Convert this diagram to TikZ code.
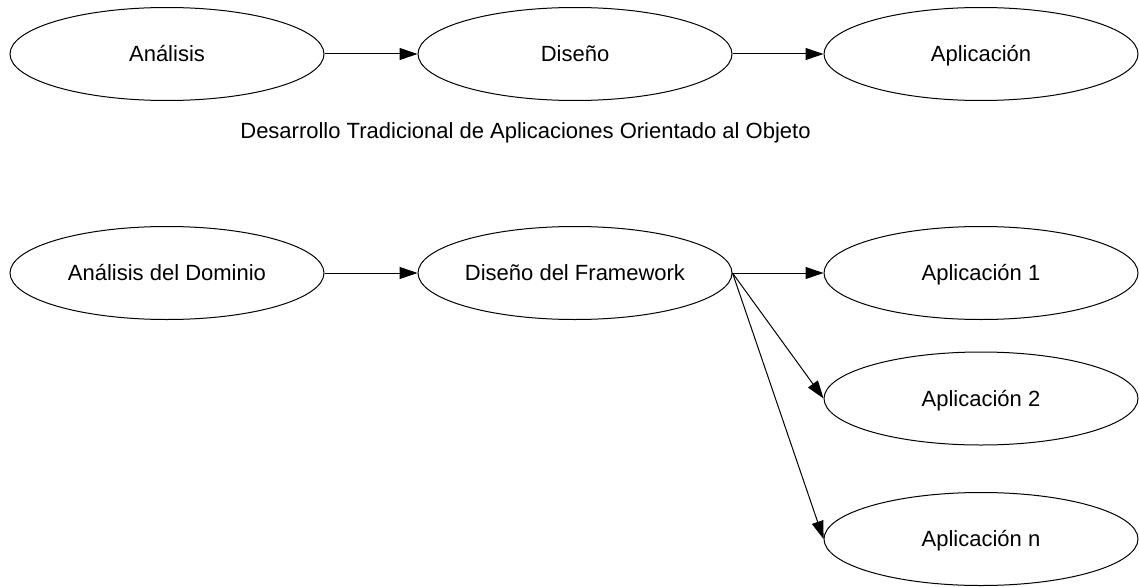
\documentclass[tikz,border=0pt]{standalone}
\usepackage{fontspec}
\setmainfont{Liberation Sans}
\usetikzlibrary{shapes.geometric,arrows.meta}

\begin{document}
\begin{tikzpicture}[x=1pt,y=-1pt,
  every node/.style={font=\fontsize{22}{26}\selectfont, text height=15.8pt, text depth=0pt, inner sep=0pt},
  stage/.style={ellipse, draw=black, line width=1pt, minimum width=314pt, minimum height=93pt},
  flow/.style={draw=black, line width=1pt, -{Triangle[length=18pt,width=12pt]}}
]
  % page frame
  \useasboundingbox (0,0) rectangle (1139,586);

  % traditional object-oriented development
  \node[stage] (an)  at (167,54)  {Análisis};
  \node[stage] (di)  at (575,54)  {Diseño};
  \node[stage] (ap)  at (981,54)  {Aplicación};
  \node (cap) at (525.5,131) {Desarrollo Tradicional de Aplicaciones Orientado al Objeto};

  \draw[flow] (an) -- (di);
  \draw[flow] (di) -- (ap);

  % framework-based development
  \node[stage] (dom) at (167,273)   {Análisis del Dominio};
  \node[stage] (fw)  at (575,273)   {Diseño del Framework};
  \node[stage] (a1)  at (981,273)   {Aplicación 1};
  \node[stage] (a2)  at (981,398.5) {Aplicación 2};
  \node[stage] (an2) at (981,539)   {Aplicación n};

  \draw[flow] (dom) -- (fw);
  \draw[flow] (fw.east) -- (a1.west);
  \draw[flow] (fw.east) -- (a2.west);
  \draw[flow] (fw.east) -- (an2.west);
\end{tikzpicture}
\end{document}
